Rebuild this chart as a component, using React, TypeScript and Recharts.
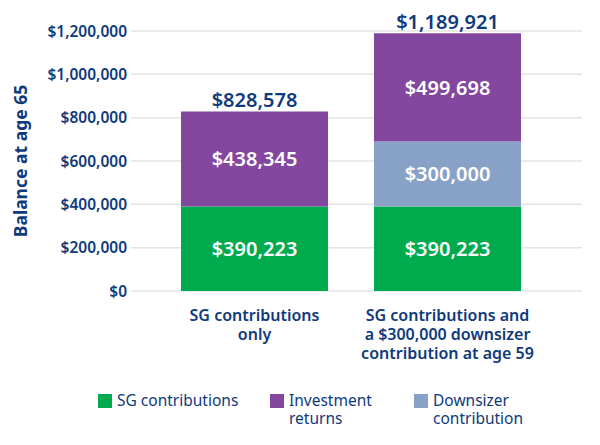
import { BarChart, Bar, XAxis, YAxis, CartesianGrid, LabelList } from "recharts";

const categories = [
  "SG contributions only",
  "SG contributions and a $300,000 downsizer contribution at age 59",
];
const categoryLines = [
  ["SG contributions", "only"],
  ["SG contributions and", "a $300,000 downsizer", "contribution at age 59"],
];
const sgValues = [390223, 390223];
const downsizerValues = [0, 300000];
const investmentValues = [438345, 499698];
const totalLabels = [828578, 1189921];
const yTicks = [0, 200000, 400000, 600000, 800000, 1000000, 1200000];

const NAVY = "#0f3a7b";
const GREEN = "#00ab4e";
const PURPLE = "#8347a0";
const BLUE = "#88a1c7";
const FONT = "'Noto Sans', 'Open Sans', sans-serif";

const data = categories.map((name, i) => ({
  name,
  sg: sgValues[i],
  downsizer: downsizerValues[i],
  investment: investmentValues[i],
}));

const money = (v: number) => "$" + v.toLocaleString("en-US");

const legendItems = [
  { color: GREEN, lines: ["SG contributions"] },
  { color: PURPLE, lines: ["Investment", "returns"] },
  { color: BLUE, lines: ["Downsizer", "contribution"] },
];

const CategoryTick = (props: any) => {
  const { x, y, payload } = props;
  const lines = categoryLines[payload.index] || [payload.value];
  return (
    <g transform={`translate(${x},${y})`}>
      <text textAnchor="middle" fill={NAVY} fontSize={16} fontWeight={600} fontFamily={FONT}>
        {lines.map((l, i) => (
          <tspan key={i} x={0} dy={i === 0 ? 30 : 19}>
            {l}
          </tspan>
        ))}
      </text>
    </g>
  );
};

const InsideLabel = (props: any) => {
  const { x, y, width, height, value } = props;
  if (!value) return null;
  return (
    <text
      x={x + width / 2}
      y={y + height / 2}
      textAnchor="middle"
      dominantBaseline="central"
      fill="#ffffff"
      fontSize={20}
      fontWeight={600}
      fontFamily={FONT}
    >
      {money(value)}
    </text>
  );
};

const TotalLabel = (props: any) => {
  const { x, y, width, index } = props;
  return (
    <text
      x={x + width / 2}
      y={y - 12}
      textAnchor="middle"
      dominantBaseline="central"
      fill={NAVY}
      fontSize={20}
      fontWeight={600}
      fontFamily={FONT}
    >
      {money(totalLabels[index])}
    </text>
  );
};

const YTitle = (props: any) => {
  const { viewBox } = props;
  const cx = 20;
  const cy = viewBox.y + viewBox.height / 2;
  return (
    <text
      x={cx}
      y={cy}
      transform={`rotate(-90 ${cx} ${cy})`}
      textAnchor="middle"
      dominantBaseline="central"
      fill={NAVY}
      fontSize={17.5}
      fontWeight={700}
      fontFamily={FONT}
    >
      Balance at age 65
    </text>
  );
};

export default function App() {
  return (
    <div style={{ position: "absolute", left: 0, top: 0, width: 600, height: 445, fontFamily: FONT }}>
      <BarChart
        width={600}
        height={445}
        data={data}
        margin={{ top: 31, right: 18, bottom: 124, left: 0 }}
        barSize={147}
      >
        <CartesianGrid vertical={false} stroke="#e4e4e4" strokeWidth={1.5} />
        <XAxis
          dataKey="name"
          axisLine={false}
          tickLine={false}
          tickSize={0}
          tickMargin={0}
          interval={0}
          height={30}
          padding={{ left: 27, right: 38 }}
          tick={<CategoryTick />}
        />
        <YAxis
          width={131}
          domain={[0, 1200000]}
          ticks={yTicks}
          axisLine={false}
          tickLine={false}
          tickSize={2}
          tickMargin={2}
          tickFormatter={money}
          tick={{ fill: NAVY, fontSize: 15.5, fontWeight: 600, fontFamily: FONT }}
          label={{ content: <YTitle /> }}
        />
        <Bar dataKey="sg" stackId="a" fill={GREEN} isAnimationActive={false}>
          <LabelList dataKey="sg" content={<InsideLabel />} />
        </Bar>
        <Bar dataKey="downsizer" stackId="a" fill={BLUE} isAnimationActive={false}>
          <LabelList dataKey="downsizer" content={<InsideLabel />} />
        </Bar>
        <Bar dataKey="investment" stackId="a" fill={PURPLE} isAnimationActive={false}>
          <LabelList dataKey="investment" content={<InsideLabel />} />
          <LabelList dataKey="investment" content={<TotalLabel />} />
        </Bar>
      </BarChart>
      <div style={{ position: "absolute", top: 391, left: 98, width: 500, height: 50 }}>
        {legendItems.map((item, i) => (
          <div
            key={i}
            style={{
              position: "absolute",
              left: [0, 172, 316][i],
              top: 0,
              display: "flex",
              alignItems: "flex-start",
            }}
          >
            <div style={{ width: 14, height: 14, background: item.color, marginTop: 3, marginRight: 5 }} />
            <div style={{ color: NAVY, fontSize: 15.5, lineHeight: "18px" }}>
              {item.lines.map((l, j) => (
                <div key={j}>{l}</div>
              ))}
            </div>
          </div>
        ))}
      </div>
    </div>
  );
}
